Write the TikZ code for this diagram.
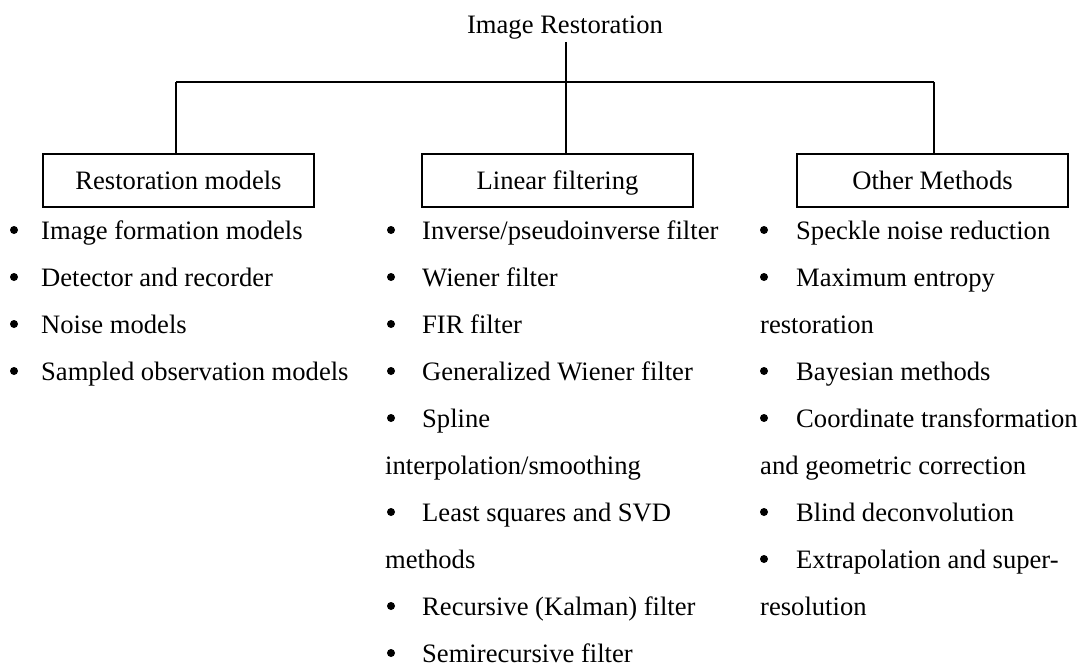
\documentclass[tikz,border=0pt]{standalone}
\usepackage{fontspec}
\setmainfont{Liberation Serif}
\begin{document}
\begin{tikzpicture}[x=1pt,y=-1pt,
  txt/.style={font=\fontsize{26.6}{32}\selectfont, inner sep=0pt, anchor=base west},
  bul/.style={circle, fill=black, inner sep=0pt, minimum size=8pt},
  catbox/.style={draw, line width=1.5pt, minimum width=271pt, minimum height=53pt, inner sep=0pt,
    text height=21pt, text depth=3pt, font=\fontsize{26.6}{32}\selectfont},
  conn/.style={line width=1.5pt}]
\useasboundingbox (0,0) rectangle (1079,666);
\def\bz{239}\def\dy{47}
% title
\node[font=\fontsize{26.6}{32}\selectfont, inner sep=0pt, anchor=base] (title) at (565,34) {Image Restoration};
% boxes
\node[catbox] (rm) at (178.5,180.5) {Restoration models};
\node[catbox] (lf) at (557.5,180.5) {Linear filtering};
\node[catbox] (om) at (932.5,180.5) {Other Methods};
% connectors
\coordinate (t0) at (566,42);
\coordinate (bus) at (566,82);
\coordinate (j1) at (176,82);
\coordinate (j3) at (934,82);
\draw[conn] (t0) -- (bus);
\draw[conn] (j1) -- (j3);
\draw[conn] (j1) -- (j1 |- rm.north);
\draw[conn] (bus) -- (bus |- lf.north);
\draw[conn] (j3) -- (j3 |- om.north);
% column 1
\foreach \k/\t in {0/{Image formation models},1/{Detector and recorder},2/{Noise models},3/{Sampled observation models}}{
  \node[bul] (b1\k) at (14,\bz+\dy*\k-9) {};
  \node[txt] (c1\k) at (41,\bz+\dy*\k) {\t};
}
% column 2
\foreach \k/\t in {0/{Inverse/pseudoinverse filter},1/{Wiener filter},2/{FIR filter},3/{Generalized Wiener filter},4/{Spline},6/{Least squares and SVD},8/{Recursive (Kalman) filter},9/{Semirecursive filter}}{
  \node[bul] (b2\k) at (391,\bz+\dy*\k-9) {};
  \node[txt] (c2\k) at (422,\bz+\dy*\k) {\t};
}
\node[txt] (c25) at (385,\bz+\dy*5) {interpolation/smoothing};
\node[txt] (c27) at (385,\bz+\dy*7) {methods};
% column 3
\foreach \k/\t in {0/{Speckle noise reduction},1/{Maximum entropy},3/{Bayesian methods},4/{Coordinate transformation},6/{Blind deconvolution},7/{Extrapolation and super-}}{
  \node[bul] (b3\k) at (764,\bz+\dy*\k-9) {};
  \node[txt] (c3\k) at (796,\bz+\dy*\k) {\t};
}
\node[txt] (c32) at (760,\bz+\dy*2) {restoration};
\node[txt] (c35) at (760,\bz+\dy*5) {and geometric correction};
\node[txt] (c38) at (760,\bz+\dy*8) {resolution};
\end{tikzpicture}
\end{document}
